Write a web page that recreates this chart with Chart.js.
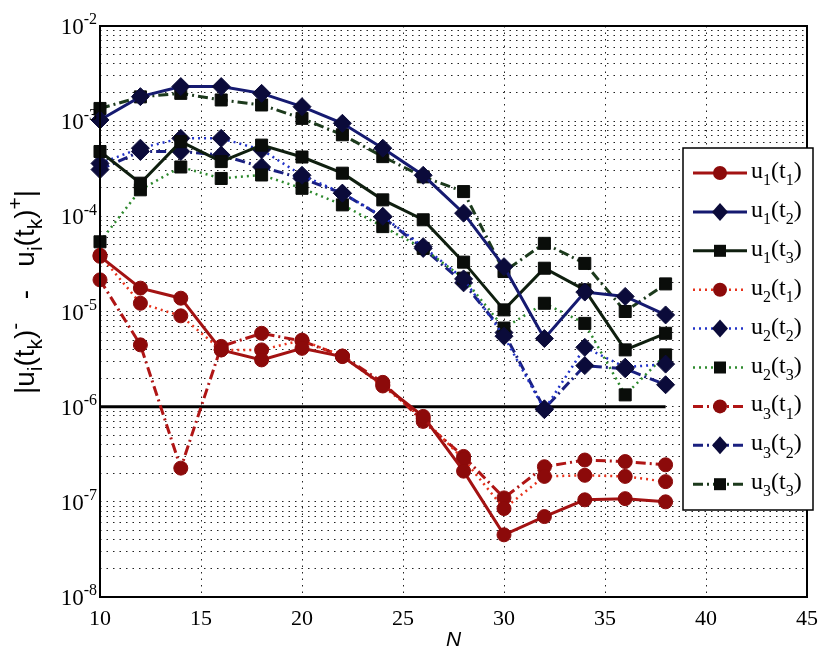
<!DOCTYPE html>
<html lang="en">
<head>
    <meta charset="UTF-8">
    <title>Jump errors</title>
    <style>
        html, body {
            margin: 0;
            padding: 0;
            background: #fff;
        }
        #wrap {
            width: 827px;
            height: 654px;
            position: relative;
        }
    </style>
    <script src="https://cdn.jsdelivr.net/npm/chart.js"></script>
</head>
<body>
    <div id="wrap"><canvas id="chart" width="827" height="654"></canvas></div>

    <script>
        // number of intervals
        const N = [10, 12, 14, 16, 18, 20, 22, 24, 26, 28, 30, 32, 34, 36, 38];

        // |u_i(t_k)^- - u_i(t_k)^+| for each component / time
        const u1t1 = [3.8e-5, 1.76e-5, 1.38e-5, 3.95e-6, 3.1e-6, 4.1e-6, 3.36e-6, 1.7e-6, 7.9e-7, 2.1e-7, 4.5e-8, 7.0e-8, 1.05e-7, 1.08e-7, 1.0e-7];
        const u1t2 = [1.03e-3, 1.81e-3, 2.31e-3, 2.31e-3, 1.96e-3, 1.42e-3, 9.5e-4, 5.2e-4, 2.7e-4, 1.08e-4, 2.96e-5, 5.2e-6, 1.6e-5, 1.44e-5, 9.2e-6];
        const u1t3 = [4.8e-4, 2.23e-4, 6.1e-4, 3.76e-4, 5.6e-4, 4.2e-4, 2.84e-4, 1.49e-4, 9.2e-5, 3.3e-5, 1.04e-5, 2.85e-5, 1.69e-5, 3.95e-6, 5.9e-6];
        const u2t1 = [3.9e-5, 1.22e-5, 9.0e-6, 3.95e-6, 3.95e-6, 5.0e-6, 3.4e-6, 1.65e-6, 7.5e-7, 2.8e-7, 8.5e-8, 1.85e-7, 1.9e-7, 1.85e-7, 1.63e-7];
        const u2t2 = [3.6e-4, 5.2e-4, 6.6e-4, 6.6e-4, 5.0e-4, 2.7e-4, 1.75e-4, 1.0e-4, 4.8e-5, 2.2e-5, 5.5e-6, 9.3e-7, 4.2e-6, 2.6e-6, 2.8e-6];
        const u2t3 = [5.4e-5, 1.9e-4, 3.3e-4, 2.5e-4, 2.72e-4, 1.97e-4, 1.32e-4, 7.8e-5, 4.6e-5, 2.24e-5, 6.7e-6, 1.22e-5, 7.5e-6, 1.33e-6, 3.5e-6];
        const u3t1 = [2.15e-5, 4.46e-6, 2.26e-7, 4.3e-6, 5.9e-6, 4.9e-6, 3.4e-6, 1.8e-6, 7.0e-7, 3.0e-7, 1.1e-7, 2.34e-7, 2.75e-7, 2.65e-7, 2.45e-7];
        const u3t2 = [3.1e-4, 4.8e-4, 4.8e-4, 4.4e-4, 3.3e-4, 2.5e-4, 1.75e-4, 9.8e-5, 4.6e-5, 2.0e-5, 6.0e-6, 9.5e-7, 2.7e-6, 2.5e-6, 1.7e-6];
        const u3t3 = [1.36e-3, 1.8e-3, 1.96e-3, 1.67e-3, 1.48e-3, 1.07e-3, 7.2e-4, 4.24e-4, 2.6e-4, 1.82e-4, 2.63e-5, 5.2e-5, 3.2e-5, 1.0e-5, 1.95e-5];

        // tolerance line
        const tolN = [10, 38];
        const tolValue = [1e-6, 1e-6];

        const xTicks = [10, 15, 20, 25, 30, 35, 40, 45];
        const yExponents = [-8, -7, -6, -5, -4, -3, -2];

        const SERIF = '"Liberation Serif", "DejaVu Serif", serif';
        const SANS = '"Liberation Sans", Arial, sans-serif';

        const DOT = [2, 4];
        const DASHDOT = [10, 4, 2, 4];

        // label parts: [text, 'n' | 'sub' | 'sup']
        function uLabel(i, k) {
            return [['u', 'n'], [String(i), 'sub'], ['(t', 'n'], [String(k), 'sub'], [')', 'n']];
        }

        const seriesDefs = [
            { label: uLabel(1, 1), data: u1t1, color: '#a31212', dash: [], width: 3, marker: 'circle', fill: '#8c0a0a' },
            { label: uLabel(1, 2), data: u1t2, color: '#151a70', dash: [], width: 3, marker: 'diamond', fill: '#0b0b3a' },
            { label: uLabel(1, 3), data: u1t3, color: '#0f1f0f', dash: [], width: 3, marker: 'square', fill: '#0a0d0a' },
            { label: uLabel(2, 1), data: u2t1, color: '#e8331c', dash: DOT, width: 2.5, marker: 'circle', fill: '#8c0a0a' },
            { label: uLabel(2, 2), data: u2t2, color: '#2233c8', dash: DOT, width: 2.5, marker: 'diamond', fill: '#0b0b3a' },
            { label: uLabel(2, 3), data: u2t3, color: '#2e8a2e', dash: DOT, width: 2.5, marker: 'square', fill: '#0a0d0a' },
            { label: uLabel(3, 1), data: u3t1, color: '#b01515', dash: DASHDOT, width: 3, marker: 'circle', fill: '#8c0a0a' },
            { label: uLabel(3, 2), data: u3t2, color: '#1a2080', dash: DASHDOT, width: 3, marker: 'diamond', fill: '#0b0b3a' },
            { label: uLabel(3, 3), data: u3t3, color: '#1c3a1c', dash: DASHDOT, width: 3, marker: 'square', fill: '#0a0d0a' }
        ];

        const styleMap = { circle: ['circle', 7], diamond: ['rectRot', 9], square: ['rect', 8.5] };

        const datasets = seriesDefs.map(s => ({
            data: N.map((n, j) => ({ x: n, y: s.data[j] })),
            showLine: true,
            borderColor: s.color,
            borderWidth: s.width,
            borderDash: s.dash,
            pointStyle: styleMap[s.marker][0],
            pointRadius: styleMap[s.marker][1],
            pointBackgroundColor: s.fill,
            pointBorderColor: s.fill,
            pointBorderWidth: 1,
            clip: false
        }));

        datasets.push({
            data: tolN.map((n, j) => ({ x: n, y: tolValue[j] })),
            showLine: true,
            borderColor: '#000',
            borderWidth: 3,
            pointRadius: 0,
            clip: false
        });

        // width of text made of normal / sub / sup pieces
        function richWidth(ctx, parts, size, family, small) {
            let w = 0;
            parts.forEach(([t, k]) => {
                ctx.font = (k === 'n' ? size : Math.round(size * small)) + 'px ' + family;
                w += ctx.measureText(t).width;
            });
            return w;
        }

        function drawRich(ctx, parts, x, y, size, family, small) {
            ctx.textBaseline = 'alphabetic';
            ctx.textAlign = 'left';
            parts.forEach(([t, k]) => {
                const fs = k === 'n' ? size : Math.round(size * small);
                ctx.font = fs + 'px ' + family;
                let dy = 0;
                if (k === 'sub') dy = size * 0.3;
                if (k === 'sup') dy = -size * 0.42;
                ctx.fillText(t, x, y + dy);
                x += ctx.measureText(t).width;
            });
        }

        function drawMarker(ctx, type, x, y, fill) {
            ctx.save();
            ctx.setLineDash([]);
            ctx.fillStyle = fill;
            ctx.beginPath();
            if (type === 'circle') {
                ctx.arc(x, y, 7, 0, Math.PI * 2);
            } else if (type === 'diamond') {
                ctx.moveTo(x, y - 9);
                ctx.lineTo(x + 8, y);
                ctx.lineTo(x, y + 9);
                ctx.lineTo(x - 8, y);
                ctx.closePath();
            } else {
                ctx.rect(x - 6, y - 6, 12, 12);
            }
            ctx.fill();
            ctx.restore();
        }

        const decorations = {
            id: 'decorations',
            afterDraw(chart) {
                const ctx = chart.ctx;
                const area = chart.chartArea;
                const ys = chart.scales.y;

                // frame
                ctx.save();
                ctx.strokeStyle = '#000';
                ctx.lineWidth = 2;
                ctx.setLineDash([]);
                ctx.strokeRect(area.left, area.top, area.right - area.left, area.bottom - area.top);

                // y tick labels 10^e
                ctx.fillStyle = '#000';
                yExponents.forEach(e => {
                    const py = ys.getPixelForValue(Math.pow(10, e));
                    const parts = [['10', 'n'], [String(e), 'sup']];
                    const w = richWidth(ctx, parts, 23, SERIF, 0.68);
                    drawRich(ctx, parts, area.left - 3 - w, py + 8, 23, SERIF, 0.68);
                });

                // y axis title
                const title = [['|u', 'n'], ['i', 'sub'], ['(t', 'n'], ['k', 'sub'], [')', 'n'], ['-', 'sup'],
                    ['   -   u', 'n'], ['i', 'sub'], ['(t', 'n'], ['k', 'sub'], [')', 'n'], ['+', 'sup'], ['|', 'n']];
                ctx.save();
                ctx.translate(34, 292);
                ctx.rotate(-Math.PI / 2);
                const tw = richWidth(ctx, title, 28, SANS, 0.74);
                drawRich(ctx, title, -tw / 2, 0, 28, SANS, 0.74);
                ctx.restore();

                // legend
                const lx = 683, ly = 148, lw = 130, lh = 362;
                ctx.fillStyle = '#fff';
                ctx.fillRect(lx, ly, lw, lh);
                ctx.strokeStyle = '#000';
                ctx.lineWidth = 1.5;
                ctx.strokeRect(lx, ly, lw, lh);
                seriesDefs.forEach((s, i) => {
                    const cy = 173 + i * 38.9;
                    ctx.save();
                    ctx.strokeStyle = s.color;
                    ctx.lineWidth = s.width;
                    ctx.setLineDash(s.dash);
                    ctx.beginPath();
                    ctx.moveTo(693, cy);
                    ctx.lineTo(747, cy);
                    ctx.stroke();
                    ctx.restore();
                    drawMarker(ctx, s.marker, 720, cy, s.fill);
                    ctx.fillStyle = '#000';
                    drawRich(ctx, s.label, 751, cy + 5, 24, SERIF, 0.68);
                });
                ctx.restore();
            }
        };

        new Chart(document.getElementById('chart').getContext('2d'), {
            type: 'scatter',
            data: { datasets: datasets },
            options: {
                responsive: false,
                animation: false,
                layout: { padding: { left: 0, top: 26, right: 14, bottom: 0 } },
                plugins: {
                    legend: { display: false },
                    tooltip: { enabled: false }
                },
                elements: { line: { tension: 0 } },
                scales: {
                    x: {
                        type: 'linear',
                        min: 10,
                        max: 45,
                        afterBuildTicks(scale) {
                            scale.ticks = xTicks.map(v => ({ value: v }));
                        },
                        afterFit(scale) {
                            scale.height = 57;
                        },
                        ticks: {
                            color: '#000',
                            padding: 9,
                            font: { family: SERIF, size: 22 }
                        },
                        grid: { color: '#222', lineWidth: 1, drawTicks: false },
                        border: { display: false, dash: [1.5, 5] },
                        title: {
                            display: true,
                            text: 'N',
                            color: '#000',
                            padding: { top: 0, bottom: 1 },
                            font: { family: SANS, size: 21, style: 'italic' }
                        }
                    },
                    y: {
                        type: 'logarithmic',
                        min: 1e-8,
                        max: 1e-2,
                        afterBuildTicks(scale) {
                            const t = [];
                            for (let e = -8; e < -2; e++) {
                                for (let m = 1; m < 10; m++) t.push({ value: m * Math.pow(10, e) });
                            }
                            t.push({ value: 1e-2 });
                            scale.ticks = t;
                        },
                        afterFit(scale) {
                            scale.width = 100;
                        },
                        ticks: { display: false },
                        grid: { color: '#222', lineWidth: 1, drawTicks: false },
                        border: { display: false, dash: [1.5, 5] }
                    }
                }
            },
            plugins: [decorations]
        });
    </script>
</body>
</html>
